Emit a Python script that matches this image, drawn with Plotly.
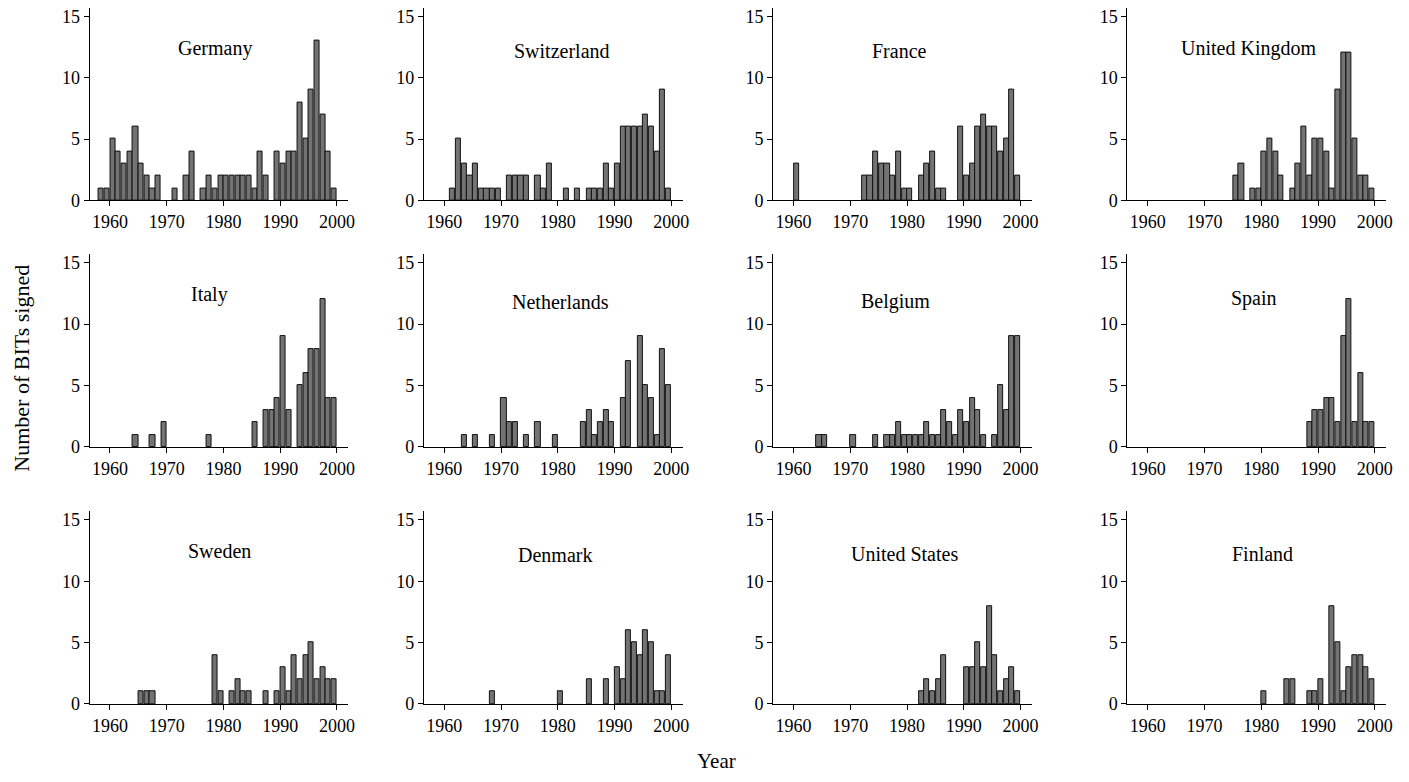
import plotly.graph_objects as go

# ---------------- data (BITs signed per year) ----------------
countries = ["Germany", "Switzerland", "France", "United Kingdom",
             "Italy", "Netherlands", "Belgium", "Spain",
             "Sweden", "Denmark", "United States", "Finland"]

germany_years = [1958, 1959, 1960, 1961, 1962, 1963, 1964, 1965, 1966, 1967, 1968, 1971, 1973, 1974,
                 1976, 1977, 1978, 1979, 1980, 1981, 1982, 1983, 1984, 1985, 1986, 1987,
                 1989, 1990, 1991, 1992, 1993, 1994, 1995, 1996, 1997, 1998, 1999]
germany_counts = [1, 1, 5, 4, 3, 4, 6, 3, 2, 1, 2, 1, 2, 4,
                  1, 2, 1, 2, 2, 2, 2, 2, 2, 1, 4, 2,
                  4, 3, 4, 4, 8, 5, 9, 13, 7, 4, 1]

switzerland_years = [1961, 1962, 1963, 1964, 1965, 1966, 1967, 1968, 1969, 1971, 1972, 1973, 1974,
                     1976, 1977, 1978, 1981, 1983, 1985, 1986, 1987, 1988, 1989, 1990,
                     1991, 1992, 1993, 1994, 1995, 1996, 1997, 1998, 1999]
switzerland_counts = [1, 5, 3, 2, 3, 1, 1, 1, 1, 2, 2, 2, 2,
                      2, 1, 3, 1, 1, 1, 1, 1, 3, 1, 3,
                      6, 6, 6, 6, 7, 6, 4, 9, 1]

france_years = [1960, 1972, 1973, 1974, 1975, 1976, 1977, 1978, 1979, 1980, 1982, 1983, 1984,
                1985, 1986, 1989, 1990, 1991, 1992, 1993, 1994, 1995, 1996, 1997, 1998, 1999]
france_counts = [3, 2, 2, 4, 3, 3, 2, 4, 1, 1, 2, 3, 4,
                 1, 1, 6, 2, 3, 6, 7, 6, 6, 4, 5, 9, 2]

uk_years = [1975, 1976, 1978, 1979, 1980, 1981, 1982, 1983, 1985, 1986, 1987,
            1988, 1989, 1990, 1991, 1992, 1993, 1994, 1995, 1996, 1997, 1998, 1999]
uk_counts = [2, 3, 1, 1, 4, 5, 4, 2, 1, 3, 6,
             2, 5, 5, 4, 1, 9, 12, 12, 5, 2, 2, 1]

italy_years = [1964, 1967, 1969, 1977, 1985, 1987, 1988, 1989, 1990, 1991,
               1993, 1994, 1995, 1996, 1997, 1998, 1999]
italy_counts = [1, 1, 2, 1, 2, 3, 3, 4, 9, 3,
                5, 6, 8, 8, 12, 4, 4]

netherlands_years = [1963, 1965, 1968, 1970, 1971, 1972, 1974, 1976, 1979, 1984, 1985, 1986,
                     1987, 1988, 1989, 1991, 1992, 1994, 1995, 1996, 1997, 1998, 1999]
netherlands_counts = [1, 1, 1, 4, 2, 2, 1, 2, 1, 2, 3, 1,
                      2, 3, 2, 4, 7, 9, 5, 4, 1, 8, 5]

belgium_years = [1964, 1965, 1970, 1974, 1976, 1977, 1978, 1979, 1980, 1981, 1982, 1983, 1984,
                 1985, 1986, 1987, 1988, 1989, 1990, 1991, 1992, 1993, 1995, 1996, 1997, 1998, 1999]
belgium_counts = [1, 1, 1, 1, 1, 1, 2, 1, 1, 1, 1, 2, 1,
                  1, 3, 2, 1, 3, 2, 4, 3, 1, 1, 5, 3, 9, 9]

spain_years = [1988, 1989, 1990, 1991, 1992, 1993, 1994, 1995, 1996, 1997, 1998, 1999]
spain_counts = [2, 3, 3, 4, 4, 2, 9, 12, 2, 6, 2, 2]

sweden_years = [1965, 1966, 1967, 1978, 1979, 1981, 1982, 1983, 1984, 1987, 1989, 1990,
                1991, 1992, 1993, 1994, 1995, 1996, 1997, 1998, 1999]
sweden_counts = [1, 1, 1, 4, 1, 1, 2, 1, 1, 1, 1, 3,
                 1, 4, 2, 4, 5, 2, 3, 2, 2]

denmark_years = [1968, 1980, 1985, 1988, 1990, 1991, 1992, 1993, 1994, 1995, 1996, 1997, 1998, 1999]
denmark_counts = [1, 1, 2, 2, 3, 2, 6, 5, 4, 6, 5, 1, 1, 4]

us_years = [1982, 1983, 1984, 1985, 1986, 1990, 1991, 1992, 1993, 1994, 1995, 1996, 1997, 1998, 1999]
us_counts = [1, 2, 1, 2, 4, 3, 3, 5, 3, 8, 4, 1, 2, 3, 1]

finland_years = [1980, 1984, 1985, 1988, 1989, 1990, 1992, 1993, 1994, 1995, 1996, 1997, 1998, 1999]
finland_counts = [1, 2, 2, 1, 1, 2, 8, 5, 1, 3, 4, 4, 3, 2]

x_ticks = [1960, 1970, 1980, 1990, 2000]
y_ticks = [0, 5, 10, 15]

series = [
    (germany_years, germany_counts), (switzerland_years, switzerland_counts),
    (france_years, france_counts), (uk_years, uk_counts),
    (italy_years, italy_counts), (netherlands_years, netherlands_counts),
    (belgium_years, belgium_counts), (spain_years, spain_counts),
    (sweden_years, sweden_counts), (denmark_years, denmark_counts),
    (us_years, us_counts), (finland_years, finland_counts),
]

# ---------------- layout geometry (pixels) ----------------
W, H = 1409, 782
col_left = [90, 426, 777, 1133]
col_width = 260
row_top = [6.7, 256.7, 517.5]
row_bottom = [202.3, 452.3, 713.0]
title_xfrac = [0.483, 0.535, 0.488, 0.469, 0.463, 0.527, 0.473, 0.488, 0.504, 0.508, 0.508, 0.523]
title_y = [12.4, 12.15, 12.15, 12.4, 12.4, 11.8, 11.8, 12.1, 12.5, 12.15, 12.2, 12.2]

FONT = "Liberation Serif, Times New Roman, serif"

fig = go.Figure()
annotations = []
for i, (name, (yrs, cnts)) in enumerate(zip(countries, series)):
    r, c = divmod(i, 4)
    ax = "" if i == 0 else str(i + 1)
    fig.add_trace(go.Bar(
        x=yrs, y=cnts, width=0.9, offset=0.05,
        marker=dict(color="#737373", line=dict(color="#111111", width=1)),
        xaxis="x" + ax, yaxis="y" + ax, showlegend=False,
    ))
    x0 = col_left[c] / W
    x1 = (col_left[c] + col_width) / W
    y0 = 1 - row_bottom[r] / H
    y1 = 1 - row_top[r] / H
    common = dict(showline=True, linecolor="black", linewidth=1, ticks="outside",
                  ticklen=5, tickwidth=1, tickcolor="black", showgrid=False,
                  zeroline=False, tickfont=dict(family=FONT, size=18, color="black"))
    fig.update_layout(**{
        "xaxis" + ax: dict(domain=[x0, x1], anchor="y" + ax, range=[1956.4, 2002],
                           tickvals=x_ticks, **common),
        "yaxis" + ax: dict(domain=[y0, y1], anchor="x" + ax, range=[0, 15.7],
                           tickvals=y_ticks, **common),
    })
    annotations.append(dict(
        text=name, xref=("x" + ax + " domain"), yref="y" + ax,
        x=title_xfrac[i], y=title_y[i], showarrow=False,
        xanchor="center", yanchor="middle",
        font=dict(family=FONT, size=20, color="black"),
    ))

annotations.append(dict(text="Number of BITs signed", xref="paper", yref="paper",
                        x=22 / W, y=1 - 372 / H, textangle=-90, showarrow=False,
                        xanchor="center", yanchor="middle",
                        font=dict(family=FONT, size=22, color="black")))
annotations.append(dict(text="Year", xref="paper", yref="paper",
                        x=720 / W, y=1 - 771 / H, showarrow=False,
                        xanchor="center", yanchor="middle",
                        font=dict(family=FONT, size=21, color="black")))

fig.update_layout(
    width=W, height=H, margin=dict(l=0, r=0, t=0, b=0),
    paper_bgcolor="white", plot_bgcolor="white",
    annotations=annotations, bargap=0,
)

fig.write_html("out.html")
